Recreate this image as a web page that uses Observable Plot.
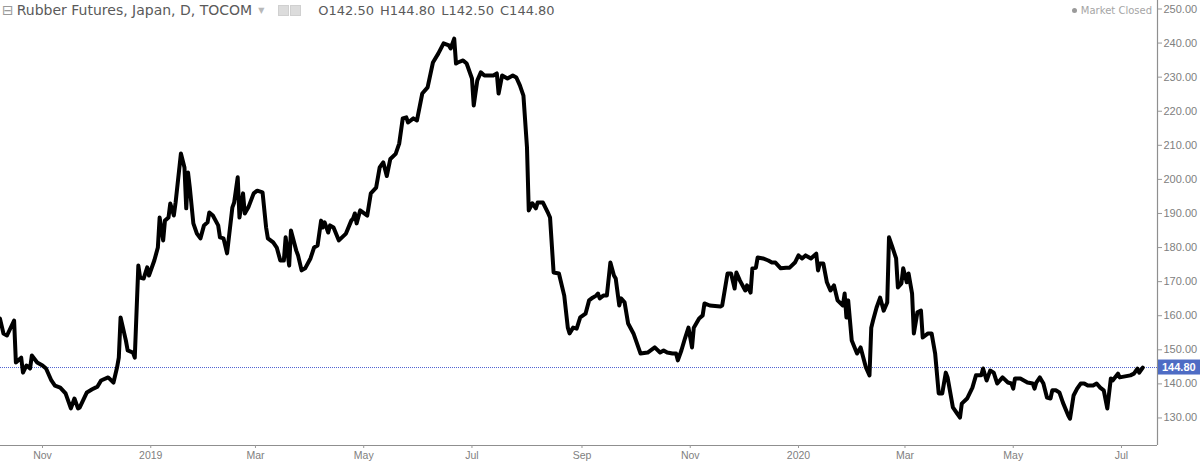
<!DOCTYPE html>
<html>
<head>
<meta charset="utf-8">
<script src="https://cdn.jsdelivr.net/npm/d3@7"></script>
<script src="https://cdn.jsdelivr.net/npm/@observablehq/plot@0.6"></script>
<style>
  html, body { margin: 0; padding: 0; background: #fff; }
  #wrap { position: relative; width: 1200px; height: 463px; overflow: hidden; }
  #title { position: absolute; left: 2px; top: 2px; font-family: "DejaVu Sans", Verdana, sans-serif; font-size: 14px; color: #5a5a5a; white-space: nowrap; display: flex; align-items: center; }
  #title .ico { color: #9a9a9a; font-size: 14px; margin-right: 3px; }
  #title .dd { color: #b8b8b8; font-size: 8px; margin: 0 14px 0 6px; }
  #title .sq { display: inline-block; width: 9px; height: 9px; background: #dcdcdc; border: 1px solid #d0d0d0; margin-right: 1px; }
  #title .ohlc { margin-left: 16px; font-size: 13px; }
  #title .ohlc span { margin-right: 6px; }
  #closed { position: absolute; right: 48px; top: 5px; font-family: "DejaVu Sans", Verdana, sans-serif; font-size: 10px; color: #a5a5a5; }
  #closed .dot { display: inline-block; width: 5px; height: 5px; border-radius: 50%; background: #9a9a9a; margin-right: 4px; vertical-align: 1px; }
</style>
</head>
<body>
<div id="wrap">
  <div id="chart"></div>
  <div id="title"></div>
  <div id="closed"><span class="dot"></span>Market Closed</div>
</div>
<script>
const chartTitle = "Rubber Futures, Japan, D, TOCOM";
const ohlcLabels = ["O", "H", "L", "C"];
const ohlcValues = [142.50, 144.80, 142.50, 144.80];
const lastClose = 144.80;

const dates = [
"2018-10-08","2018-10-10","2018-10-12","2018-10-16","2018-10-17","2018-10-20","2018-10-21","2018-10-23","2018-10-25","2018-10-26","2018-10-29",
"2018-11-01","2018-11-03","2018-11-06","2018-11-08","2018-11-11","2018-11-14","2018-11-17","2018-11-19","2018-11-21","2018-11-22","2018-11-26","2018-11-29",
"2018-12-02","2018-12-04","2018-12-08","2018-12-11","2018-12-13","2018-12-14","2018-12-15","2018-12-18","2018-12-19","2018-12-22","2018-12-23","2018-12-25","2018-12-26","2018-12-28","2018-12-30","2018-12-31",
"2019-01-03","2019-01-05","2019-01-06","2019-01-08","2019-01-09","2019-01-11","2019-01-12","2019-01-14","2019-01-15","2019-01-18","2019-01-20","2019-01-21","2019-01-22","2019-01-23","2019-01-25","2019-01-27","2019-01-29","2019-01-31",
"2019-02-02","2019-02-03","2019-02-05","2019-02-08","2019-02-09","2019-02-11","2019-02-13","2019-02-16","2019-02-17","2019-02-19","2019-02-20","2019-02-22","2019-02-23","2019-02-25","2019-02-28",
"2019-03-02","2019-03-05","2019-03-07","2019-03-08","2019-03-11","2019-03-13","2019-03-15","2019-03-17","2019-03-18","2019-03-20","2019-03-21","2019-03-24","2019-03-25","2019-03-27","2019-03-29",
"2019-04-01","2019-04-03","2019-04-05","2019-04-07","2019-04-08","2019-04-09","2019-04-11","2019-04-12","2019-04-14","2019-04-17","2019-04-21","2019-04-24","2019-04-25","2019-04-26","2019-04-27","2019-04-29",
"2019-05-03","2019-05-05","2019-05-08","2019-05-10","2019-05-12","2019-05-14","2019-05-16","2019-05-19","2019-05-21","2019-05-23","2019-05-25","2019-05-26","2019-05-29","2019-05-31",
"2019-06-03","2019-06-06","2019-06-09","2019-06-12","2019-06-15","2019-06-18","2019-06-19","2019-06-21","2019-06-22","2019-06-23","2019-06-26","2019-06-28",
"2019-07-01","2019-07-02","2019-07-04","2019-07-06","2019-07-08","2019-07-10","2019-07-13","2019-07-15","2019-07-16","2019-07-18","2019-07-21","2019-07-24","2019-07-26","2019-07-28","2019-07-30",
"2019-08-01","2019-08-02","2019-08-04","2019-08-06","2019-08-07","2019-08-10","2019-08-13","2019-08-14","2019-08-16","2019-08-19","2019-08-22","2019-08-24","2019-08-25","2019-08-27","2019-08-29","2019-08-31",
"2019-09-03","2019-09-05","2019-09-07","2019-09-09","2019-09-10","2019-09-11","2019-09-13","2019-09-15","2019-09-17","2019-09-19","2019-09-20","2019-09-22","2019-09-23","2019-09-25","2019-09-27","2019-09-30",
"2019-10-04","2019-10-08","2019-10-12","2019-10-15","2019-10-17","2019-10-19","2019-10-22","2019-10-24","2019-10-25","2019-10-27","2019-10-29","2019-10-31",
"2019-11-02","2019-11-03","2019-11-06","2019-11-08","2019-11-09","2019-11-12","2019-11-18","2019-11-19","2019-11-22","2019-11-24","2019-11-26","2019-11-27","2019-11-29",
"2019-12-02","2019-12-03","2019-12-05","2019-12-06","2019-12-08","2019-12-09","2019-12-12","2019-12-15","2019-12-17","2019-12-19","2019-12-22","2019-12-25","2019-12-27","2019-12-30",
"2020-01-01","2020-01-03","2020-01-05","2020-01-08","2020-01-11","2020-01-12","2020-01-13","2020-01-15","2020-01-17","2020-01-19","2020-01-21","2020-01-23","2020-01-26","2020-01-27","2020-01-28","2020-01-29","2020-01-31",
"2020-02-03","2020-02-05","2020-02-08","2020-02-10","2020-02-11","2020-02-12","2020-02-14","2020-02-16","2020-02-18","2020-02-20","2020-02-21","2020-02-23","2020-02-25","2020-02-26","2020-02-28","2020-02-29",
"2020-03-02","2020-03-03","2020-03-05","2020-03-06","2020-03-08","2020-03-10","2020-03-11","2020-03-14","2020-03-16","2020-03-18","2020-03-20","2020-03-22","2020-03-24","2020-03-25","2020-03-28","2020-03-30",
"2020-04-01","2020-04-02","2020-04-05","2020-04-08","2020-04-10","2020-04-13","2020-04-14","2020-04-16","2020-04-18","2020-04-20","2020-04-22","2020-04-25","2020-04-28","2020-04-30",
"2020-05-01","2020-05-02","2020-05-05","2020-05-09","2020-05-12","2020-05-13","2020-05-14","2020-05-16","2020-05-18","2020-05-20","2020-05-22","2020-05-23","2020-05-25","2020-05-27","2020-05-29",
"2020-06-01","2020-06-02","2020-06-04","2020-06-06","2020-06-08","2020-06-10","2020-06-12","2020-06-15","2020-06-17","2020-06-19","2020-06-21","2020-06-23","2020-06-25","2020-06-26","2020-06-29","2020-06-30",
"2020-07-03","2020-07-06","2020-07-08","2020-07-10","2020-07-11","2020-07-13"
];
const closes = [
159.2,154.8,154.2,158.6,146.3,147.7,143.3,145.4,144.5,148.3,146.3,
145.4,144.5,141.0,139.5,138.9,137.2,132.8,135.7,132.8,133.1,137.5,138.4,
139.2,141.0,141.9,140.4,144.8,147.7,159.5,152.7,149.8,149.2,147.7,174.7,171.2,170.9,174.2,171.8,
176.2,180.0,188.8,182.1,187.9,188.8,192.9,189.4,193.2,207.6,203.5,191.5,202.0,197.6,187.1,184.1,182.7,186.5,
187.4,190.3,189.4,186.5,183.0,182.7,178.3,191.8,193.2,200.6,188.8,195.9,190.0,191.8,195.9,
196.7,196.2,185.9,182.7,181.5,180.0,176.2,176.2,183.0,174.7,185.0,179.1,177.7,173.3,173.9,
176.8,180.0,180.6,187.9,185.9,187.4,184.4,186.5,185.9,182.1,184.1,187.9,188.5,190.0,187.1,190.9,
189.4,195.9,197.6,203.5,205.0,201.0,206.0,207.5,210.5,217.9,218.2,216.7,217.9,217.3,
225.2,227.0,234.3,236.9,239.9,239.3,238.4,241.3,234.0,234.3,234.9,234.0,
229.6,221.7,229.0,231.4,230.5,230.5,230.5,231.1,225.2,230.5,229.6,230.5,229.9,227.6,224.6,
209.4,190.9,193.0,191.5,193.2,193.2,190.0,188.8,172.7,172.4,165.9,156.5,154.8,156.5,156.2,159.5,
160.6,164.5,165.3,165.9,166.5,165.1,165.9,165.9,175.6,171.8,170.9,163.0,165.1,163.9,157.7,154.8,
148.9,149.2,150.7,149.2,149.8,149.2,148.9,148.9,146.9,149.8,153.3,156.5,
150.7,156.5,159.2,160.1,163.6,163.0,162.7,163.0,172.4,172.4,168.0,172.7,170.3,
167.4,168.9,166.8,173.9,174.1,177.1,176.8,176.2,175.6,175.6,173.9,174.1,174.1,175.6,
177.7,176.8,177.7,176.8,178.2,173.3,175.3,175.3,169.8,167.4,168.9,164.5,163.0,166.5,159.5,164.5,152.7,
148.9,150.7,144.8,142.5,156.5,158.6,162.4,165.3,161.5,163.9,183.0,180.0,176.8,168.3,169.5,173.9,
169.8,172.4,166.5,154.8,161.0,161.5,153.6,154.8,154.8,148.9,137.2,137.2,143.3,141.9,133.1,131.6,
130.1,134.2,135.7,138.9,142.5,142.5,144.5,141.0,143.9,143.3,140.1,141.9,140.4,140.1,
138.6,141.6,141.6,140.4,140.1,138.6,140.4,141.9,140.1,136.0,135.7,138.1,138.1,137.5,134.5,
130.7,129.8,136.6,138.6,140.1,140.1,139.5,139.5,140.1,138.9,138.1,132.8,141.6,141.0,143.0,141.9,
142.2,142.5,143.0,144.5,143.3,144.8
];

const xTicks = ["2018-11-01","2019-01-01","2019-03-01","2019-05-01","2019-07-01","2019-09-01","2019-11-01","2020-01-01","2020-03-01","2020-05-01","2020-07-01"];
const xTickLabels = ["Nov","2019","Mar","May","Jul","Sep","Nov","2020","Mar","May","Jul"];
const yTicks = [130, 140, 150, 160, 170, 180, 190, 200, 210, 220, 230, 240, 250];
const xDomain = [new Date(Date.UTC(2018, 9, 8, 8)), new Date(Date.UTC(2020, 6, 21, 7))];
const yDomain = [121.92, 252.49];

const data = dates.map((d, i) => ({date: new Date(d + "T00:00:00Z"), close: closes[i]}));
const xTickDates = xTicks.map(t => new Date(t + "T00:00:00Z"));
const labelFor = d => xTickLabels[xTickDates.findIndex(t => +t === +d)];

const plot = Plot.plot({
  width: 1200,
  height: 463,
  marginLeft: 0,
  marginRight: 43,
  marginTop: 0,
  marginBottom: 18,
  style: {fontFamily: "'Liberation Sans', Arial, sans-serif", fontSize: "11px", color: "#808080", background: "#fff", overflow: "visible"},
  x: {type: "utc", domain: xDomain},
  y: {domain: yDomain},
  marks: [
    Plot.ruleY([lastClose], {stroke: "#4f63d2", strokeDasharray: "1,1", strokeWidth: 1}),
    Plot.line(data, {x: "date", y: "close", stroke: "#000", strokeWidth: 4, strokeLinejoin: "round", strokeLinecap: "round"}),
    Plot.ruleY([yDomain[0]], {stroke: "#8f8f8f", strokeWidth: 1.2}),
    Plot.ruleX([xDomain[1]], {stroke: "#8f8f8f", strokeWidth: 1.2}),
    Plot.axisX({ticks: xTickDates, tickFormat: labelFor, tickSize: 3, tickPadding: 3, stroke: "#999", fill: "#808080", fontSize: 10.5, label: null}),
    Plot.axisY({anchor: "right", ticks: yTicks, tickFormat: d => d.toFixed(2), tickSize: 4, tickPadding: 2, stroke: "#999", fill: "#808080", fontSize: 11, label: null})
  ]
});
document.getElementById("chart").appendChild(plot);

// current price label on the price axis, placed through the plot's y scale
const yPos = plot.scale("y").apply(lastClose);
const svg = d3.select(plot);
const g = svg.append("g");
g.append("rect").attr("x", 1158).attr("y", yPos - 7.5).attr("width", 42).attr("height", 15).attr("fill", "#4e6cc4");
g.append("text").attr("x", 1162).attr("y", yPos).attr("dy", "0.35em").attr("fill", "#fff")
  .attr("text-anchor", "start")
  .attr("font-family", "'Liberation Sans', Arial, sans-serif").attr("font-size", 11).attr("font-weight", "bold")
  .text(lastClose.toFixed(2));

// header
const title = document.getElementById("title");
title.innerHTML = `<span class="ico">⊟</span><span>${chartTitle}</span><span class="dd">▼</span><span class="sq"></span><span class="sq"></span><span class="ohlc">${ohlcLabels.map((l, i) => `<span>${l}${ohlcValues[i].toFixed(2)}</span>`).join("")}</span>`;
</script>
</body>
</html>
